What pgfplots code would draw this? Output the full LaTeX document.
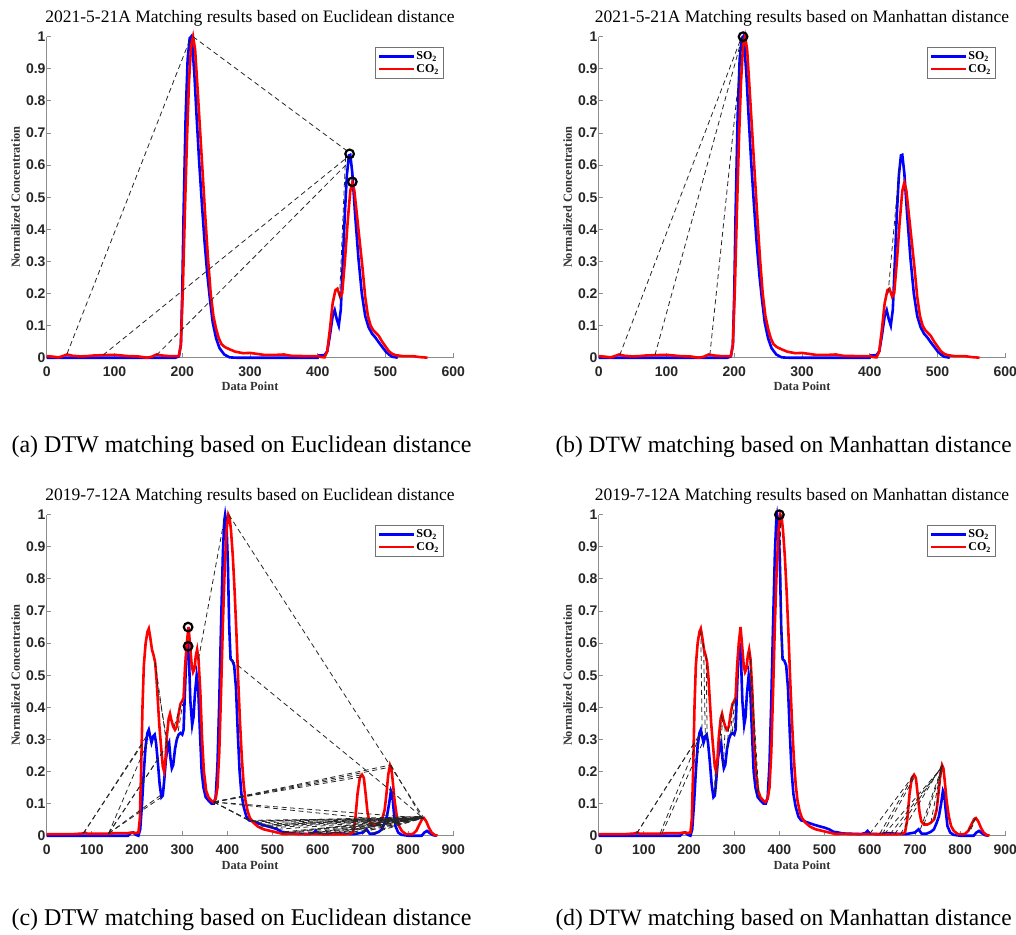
\documentclass[border=0pt]{standalone}
\usepackage{fontspec}
\setmainfont{Liberation Serif}
\newfontfamily\arialfont{Liberation Sans}
\usepackage{pgfplots}
\usepackage{pgfplotstable}
\pgfplotsset{compat=1.18}

% 2021-5-21A
\pgfplotstableread{
x y
0 0
190 0
195 0.004
198 0.04
200 0.2
202 0.45
205 0.75
208 0.93
211 0.995
213 1.0
215 0.97
218 0.88
221 0.76
225 0.61
229 0.48
233 0.36
237 0.26
241 0.18
245 0.11
250 0.06
255 0.03
262 0.01
270 0.001
280 0
400 0
402 0.007
410 0.008
414 0.02
418 0.07
422 0.13
425 0.148
428 0.12
431 0.1
434 0.15
437 0.3
440 0.45
443 0.57
446 0.63
448 0.632
451 0.575
455 0.45
460 0.31
465 0.2
470 0.13
475 0.095
480 0.075
485 0.063
490 0.048
495 0.034
500 0.02
505 0.01
510 0.003
518 0
}\soA
\pgfplotstableread{
x y
0 0.005
10 0.003
18 0.001
25 0.006
30 0.01
38 0.006
50 0.004
60 0.005
70 0.007
85 0.008
100 0.009
110 0.007
120 0.005
135 0.004
148 0.0
155 0.003
162 0.01
170 0.007
180 0.005
195 0.005
198 0.04
201 0.22
204 0.46
207 0.68
210 0.86
213 0.97
216 1.0
219 0.96
222 0.86
226 0.72
230 0.58
234 0.44
238 0.31
242 0.2
246 0.13
250 0.09
254 0.06
258 0.042
263 0.033
270 0.026
278 0.019
290 0.014
300 0.015
310 0.012
320 0.009
340 0.009
350 0.01
360 0.006
380 0.005
400 0.005
405 0.002
410 0.001
414 0.02
418 0.09
422 0.17
426 0.21
429 0.215
433 0.19
436 0.2
440 0.3
444 0.42
448 0.52
451 0.545
454 0.52
458 0.44
462 0.36
466 0.28
470 0.19
474 0.13
478 0.1
482 0.085
486 0.077
490 0.068
495 0.05
500 0.035
505 0.02
510 0.012
515 0.008
525 0.005
540 0.005
550 0.002
562 0
}\coA

% 2019-7-12A
\pgfplotstableread{
x y
0 0
180 0
186 0.008
192 0.01
197 0.003
203 0
207 0.02
211 0.1
215 0.2
219 0.28
223 0.32
226 0.33
229 0.31
232 0.29
236 0.31
239 0.315
242 0.29
246 0.23
250 0.16
254 0.12
257 0.125
260 0.17
264 0.24
268 0.28
271 0.29
274 0.24
277 0.21
280 0.22
284 0.27
288 0.3
292 0.315
296 0.32
300 0.315
303 0.33
306 0.45
309 0.56
312 0.6
315 0.55
318 0.42
322 0.345
325 0.37
328 0.44
332 0.5
335 0.47
339 0.33
343 0.2
347 0.15
352 0.12
358 0.11
365 0.1
370 0.1
374 0.12
378 0.22
382 0.42
386 0.66
390 0.88
393 0.98
395 1.0
398 0.97
401 0.85
404 0.65
407 0.55
411 0.545
415 0.53
419 0.46
423 0.32
427 0.2
431 0.13
436 0.09
442 0.06
448 0.048
455 0.045
465 0.04
475 0.035
487 0.03
500 0.025
510 0.02
520 0.012
530 0.01
540 0.007
560 0.006
580 0.005
590 0.008
595 0.015
600 0.006
620 0.005
640 0.008
660 0.006
680 0.005
700 0.01
708 0.02
715 0.006
725 0.006
735 0.012
742 0.02
748 0.04
753 0.06
758 0.1
762 0.14
765 0.13
768 0.08
772 0.03
778 0.01
785 0.003
800 0
830 0
836 0.01
842 0.015
848 0.008
855 0.002
862 0
}\soB
\pgfplotstableread{
x y
0 0.005
60 0.005
80 0.007
85 0.01
90 0.006
140 0.006
150 0.008
180 0.008
188 0.01
195 0.008
203 0.01
206 0.05
209 0.2
212 0.4
215 0.53
219 0.6
223 0.635
226 0.645
229 0.62
233 0.58
237 0.56
240 0.54
243 0.49
246 0.42
249 0.35
253 0.28
257 0.215
260 0.2
263 0.24
266 0.31
270 0.365
273 0.38
276 0.36
280 0.34
284 0.33
288 0.34
292 0.38
296 0.41
300 0.42
303 0.43
306 0.52
310 0.6
314 0.65
317 0.6
321 0.53
324 0.51
327 0.52
330 0.56
333 0.58
336 0.55
340 0.45
344 0.3
348 0.2
353 0.14
358 0.12
364 0.11
369 0.105
374 0.115
378 0.15
382 0.26
386 0.45
390 0.66
394 0.83
398 0.95
402 1.0
405 0.99
408 0.95
412 0.87
416 0.76
420 0.63
424 0.48
428 0.35
432 0.24
436 0.16
440 0.11
445 0.075
450 0.055
458 0.04
468 0.028
480 0.02
495 0.015
510 0.01
525 0.005
540 0.006
560 0.005
600 0.005
640 0.004
670 0.005
678 0.01
683 0.05
688 0.13
693 0.18
698 0.19
702 0.18
706 0.13
710 0.075
714 0.045
720 0.035
728 0.035
735 0.04
742 0.05
748 0.08
752 0.13
756 0.19
760 0.22
763 0.21
766 0.17
770 0.11
775 0.06
780 0.03
786 0.015
795 0.005
810 0.005
818 0.015
825 0.035
831 0.052
835 0.055
840 0.045
846 0.025
852 0.01
858 0.003
865 0
}\coB

\pgfplotsset{
  panel/.style={
    scale only axis, width=406.6pt, height=321pt,
    xmin=0, ymin=0, ymax=1, clip=false,
    axis x line*=bottom, axis y line*=left,
    axis line style={black!45, line width=0.9pt},
    tick style={black!45, line width=0.9pt},
    tick align=inside, major tick length=4.5pt,
    ytick={0,0.1,0.2,0.3,0.4,0.5,0.6,0.7,0.8,0.9,1},
    yticklabels={0,0.1,0.2,0.3,0.4,0.5,0.6,0.7,0.8,0.9,1},
    /pgf/number format/assume math mode=true,
    tick label style={font=\arialfont\bfseries\fontsize{14}{16}\selectfont, text=black!85},
    xticklabel style={yshift=-5pt},
    yticklabel style={xshift=2.3pt},
    title style={at={(axis description cs:0.5,1.0255)}, anchor=base,
      font=\fontsize{17.5}{20}\selectfont},
    xlabel={Data Point}, ylabel={Normalized Concentration},
    label style={font=\bfseries\fontsize{12.4}{14}\selectfont, text=black!80},
    xlabel style={at={(axis description cs:0.5,-0.1037)}, anchor=base},
    ylabel style={at={(axis description cs:-0.0657,0.5)}, anchor=base},
    legend style={at={(axis description cs:0.9754,0.9688)}, anchor=north east,
      draw=black!55, line width=0.7pt, fill=white,
      font=\bfseries\fontsize{12}{12}\selectfont,
      inner xsep=3pt, inner ysep=3.5pt, row sep=1.5pt, nodes={inner sep=1pt}},
    legend cell align=left,
    legend image code/.code={\draw[#1, line width=2.5pt] (0pt,0pt) -- (35pt,0pt);},
  },
  top/.style={xmax=600, xtick={0,100,200,300,400,500,600},
    xticklabels={0,100,200,300,400,500,600}},
  bot/.style={xmax=900, xtick={0,100,200,300,400,500,600,700,800,900},
    xticklabels={0,100,200,300,400,500,600,700,800,900}},
  so/.style={blue, line width=2.6pt},
  co/.style={red, line width=2.6pt},
  dtw/.style={black!85, dash pattern=on 5pt off 3.5pt, line width=0.8pt, forget plot},
  circ/.style={only marks, mark=o, mark size=4.3pt,
    mark options={line width=2.2pt, black}, forget plot},
}
\newcommand{\seg}[4]{\addplot[dtw] coordinates {(#1,#2) (#3,#4)};}

\begin{document}
\begin{tikzpicture}
\path[use as bounding box] (0pt,0pt) rectangle (1016pt,-934pt);

% (a)
\begin{axis}[panel, top, at={(46.7pt,-357.7pt)}, anchor=south west,
  title={2021-5-21A Matching results based on Euclidean distance}]
  \addplot[so] table {\soA}; \addlegendentry{SO\textsubscript{2}}
  \addplot[co] table {\coA}; \addlegendentry{CO\textsubscript{2}}
  \seg{30}{0.012}{213}{1.0}
  \seg{216}{1.0}{446}{0.64}
  \seg{83}{0.008}{444}{0.625}
  \seg{162}{0.008}{446}{0.61}
  \seg{441}{0.626}{432}{0.18}
  \addplot[circ] coordinates {(447,0.635) (451,0.548)};
\end{axis}

% (b)
\begin{axis}[panel, top, at={(598.7pt,-357.7pt)}, anchor=south west,
  title={2021-5-21A Matching results based on Manhattan distance}]
  \addplot[so] table {\soA}; \addlegendentry{SO\textsubscript{2}}
  \addplot[co] table {\coA}; \addlegendentry{CO\textsubscript{2}}
  \seg{31}{0.008}{211}{1.0}
  \seg{83}{0.008}{212}{1.0}
  \seg{164}{0.008}{213}{1.0}
  \seg{427}{0.2}{444}{0.6}
  \addplot[circ] coordinates {(213,1.0)};
\end{axis}

% (c)
\begin{axis}[panel, bot, at={(46.7pt,-835.7pt)}, anchor=south west,
  title={2019-7-12A Matching results based on Euclidean distance}]
  \addplot[so] table {\soB}; \addlegendentry{SO\textsubscript{2}}
  \addplot[co] table {\coB}; \addlegendentry{CO\textsubscript{2}}
  \seg{81}{0.007}{214}{0.29}
  \seg{81}{0.007}{221}{0.31}
  \seg{137}{0.007}{226}{0.30}
  \seg{137}{0.007}{254}{0.12}
  \seg{137}{0.007}{256}{0.13}
  \seg{137}{0.007}{266}{0.28}
  \seg{137}{0.007}{270}{0.29}
  \seg{240}{0.54}{266}{0.28}
  \seg{244}{0.48}{268}{0.28}
  \seg{282}{0.34}{300}{0.42}
  \seg{288}{0.30}{301}{0.41}
  \seg{336}{0.55}{395}{1.0}
  \seg{403}{1.0}{834}{0.057}
  \seg{408}{0.548}{762}{0.14}
  \seg{370}{0.105}{760}{0.22}
  \seg{370}{0.105}{758}{0.213}
  \seg{370}{0.105}{698}{0.19}
  \seg{370}{0.105}{696}{0.183}
  \seg{370}{0.105}{740}{0.05}
  \seg{370}{0.105}{832}{0.055}
  \seg{370}{0.105}{445}{0.05}
  \seg{370}{0.105}{450}{0.045}
  \seg{370}{0.105}{455}{0.044}
  \seg{762}{0.22}{831}{0.055}
  \seg{762}{0.14}{833}{0.055}
  \seg{448}{0.048}{833}{0.055}
  \seg{452}{0.046}{833}{0.055}
  \seg{458}{0.044}{833}{0.055}
  \seg{465}{0.040}{833}{0.055}
  \seg{472}{0.036}{833}{0.055}
  \seg{480}{0.033}{833}{0.055}
  \seg{490}{0.030}{833}{0.055}
  \seg{500}{0.025}{833}{0.055}
  \seg{512}{0.020}{833}{0.055}
  \seg{525}{0.012}{833}{0.055}
  \seg{540}{0.008}{833}{0.055}
  \seg{560}{0.006}{833}{0.055}
  \seg{580}{0.005}{833}{0.055}
  \seg{600}{0.006}{833}{0.055}
  \seg{620}{0.005}{833}{0.055}
  \seg{640}{0.008}{833}{0.055}
  \seg{660}{0.006}{833}{0.055}
  \seg{680}{0.006}{833}{0.055}
  \seg{700}{0.012}{833}{0.055}
  \seg{720}{0.008}{833}{0.055}
  \seg{740}{0.02}{833}{0.055}
  \seg{750}{0.05}{833}{0.055}
  \seg{470}{0.027}{833}{0.055}
  \seg{520}{0.008}{833}{0.055}
  \seg{610}{0.005}{833}{0.055}
  \seg{455}{0.045}{831}{0.06}
  \seg{485}{0.032}{831}{0.06}
  \seg{530}{0.01}{831}{0.06}
  \seg{590}{0.008}{831}{0.06}
  \seg{650}{0.007}{831}{0.06}
  \addplot[circ] coordinates {(313,0.65) (313,0.59)};
\end{axis}

% (d)
\begin{axis}[panel, bot, at={(598.7pt,-835.7pt)}, anchor=south west,
  title={2019-7-12A Matching results based on Manhattan distance}]
  \addplot[so] table {\soB}; \addlegendentry{SO\textsubscript{2}}
  \addplot[co] table {\coB}; \addlegendentry{CO\textsubscript{2}}
  \seg{84}{0.007}{217}{0.30}
  \seg{84}{0.007}{221}{0.31}
  \seg{136}{0.007}{223}{0.31}
  \seg{140}{0.007}{230}{0.29}
  \seg{226}{0.64}{229}{0.31}
  \seg{232}{0.60}{236}{0.31}
  \seg{238}{0.56}{240}{0.30}
  \seg{258}{0.20}{256}{0.125}
  \seg{262}{0.22}{258}{0.14}
  \seg{272}{0.38}{268}{0.28}
  \seg{275}{0.37}{270}{0.29}
  \seg{280}{0.34}{276}{0.22}
  \seg{288}{0.34}{284}{0.27}
  \seg{296}{0.41}{292}{0.31}
  \seg{300}{0.42}{296}{0.32}
  \seg{303}{0.43}{300}{0.315}
  \seg{334}{0.57}{352}{0.12}
  \seg{336}{0.55}{355}{0.115}
  \seg{402}{1.0}{405}{0.55}
  \seg{600}{0.006}{698}{0.19}
  \seg{622}{0.006}{698}{0.19}
  \seg{628}{0.005}{700}{0.185}
  \seg{632}{0.005}{758}{0.21}
  \seg{645}{0.005}{758}{0.21}
  \seg{655}{0.005}{759}{0.215}
  \seg{668}{0.005}{760}{0.22}
  \seg{712}{0.02}{759}{0.21}
  \seg{720}{0.035}{760}{0.21}
  \seg{735}{0.04}{760}{0.22}
  \seg{744}{0.05}{761}{0.22}
  \seg{818}{0.015}{834}{0.055}
  \seg{824}{0.02}{835}{0.055}
  \addplot[circ] coordinates {(400,1.0)};
\end{axis}

\node[anchor=base west, font=\fontsize{24}{28}\selectfont] at (8pt,-452pt)
  {(a) DTW matching based on Euclidean distance};
\node[anchor=base west, font=\fontsize{23.4}{28}\selectfont] at (552pt,-452pt)
  {(b) DTW matching based on Manhattan distance};
\node[anchor=base west, font=\fontsize{24}{28}\selectfont] at (8pt,-925pt)
  {(c) DTW matching based on Euclidean distance};
\node[anchor=base west, font=\fontsize{23.4}{28}\selectfont] at (552pt,-925pt)
  {(d) DTW matching based on Manhattan distance};
\end{tikzpicture}
\end{document}
